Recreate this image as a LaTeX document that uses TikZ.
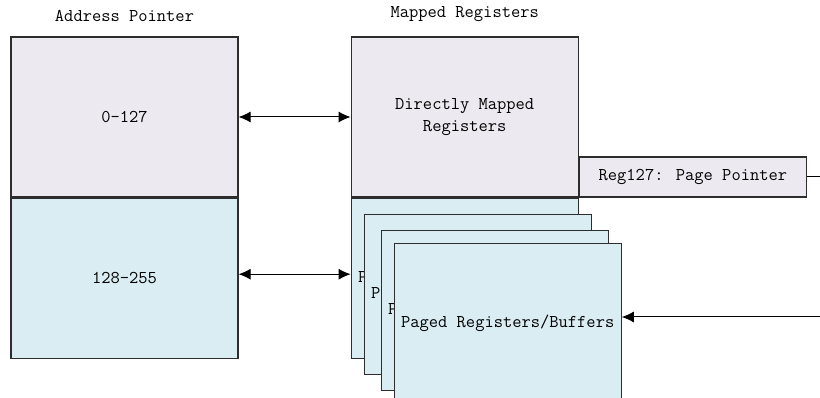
\documentclass[tikz,border=0pt]{standalone}
\usepackage{tikz}
\usetikzlibrary{arrows.meta,positioning,calc}

\definecolor{regtop}{RGB}{236,233,240}
\definecolor{regbot}{RGB}{218,237,242}
\definecolor{regline}{RGB}{45,45,45}

\begin{document}
\begin{tikzpicture}[x=1pt,y=-1pt,semithick,node distance=0pt,
  every node/.style={font=\ttfamily\fontsize{18}{22}\selectfont},
  >={Latex[length=12pt,width=11pt]}]
\tikzstyle{block}=[rectangle,draw=regline,line width=1.2pt,minimum width=227pt,minimum height=160pt,inner sep=0pt,align=center]
  \tikzstyle{upper}=[block,fill=regtop]
  \tikzstyle{lower}=[block,fill=regbot]
  \tikzstyle{caption}=[inner sep=0pt]
  \tikzstyle{link}=[draw=black,line width=1pt]
%
\useasboundingbox (0,0) rectangle (820,398);
%
\node[upper] (addrlo) at (124.5,117) {0-127};
  \node[lower] (addrhi) [below=of addrlo] {128-255};
  \node[upper] (direct) [right=112pt of addrlo] {Directly Mapped\\Registers};
  \node[lower] (paged0) [below=of direct] {Paged Registers/Buffers};
  \node[lower] (paged1) at ($(paged0)+(13,16)$) {Paged Registers/Buffers};
  \node[lower] (paged2) at ($(paged1)+(17,16)$) {Paged Registers/Buffers};
  \node[lower] (paged3) at ($(paged2)+(13,13)$) {Paged Registers/Buffers};
  \node[block,fill=regtop,minimum height=40pt,anchor=south west] (pageptr) at (direct.south east) {Reg127: Page Pointer};
  \node[caption,above=14pt of addrlo] (lab0) {Address Pointer};
  \node[caption,above=14pt of direct] (lab1) {Mapped Registers};
  \coordinate (outptr) at (820,177);
  \coordinate (inptr) at (820,317);

  \draw[link,<->] (addrlo) -- (direct);
  \draw[link,<->] ($(addrhi.east)+(0,-4)$) -- ($(addrhi.east -| paged0.west)+(0,-4)$);
  \draw[link] (pageptr) -- (outptr);
  \draw[link,->] (inptr) -- (inptr -| paged3.east);
\end{tikzpicture}
\end{document}
